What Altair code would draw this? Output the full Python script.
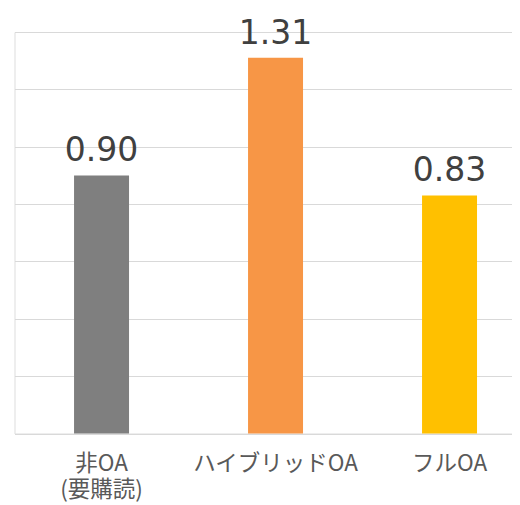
import altair as alt
import pandas as pd

categories = ["非OA\n(要購読)", "ハイブリッドOA", "フルOA"]
values = [0.90, 1.31, 0.83]
colors = ["#7F7F7F", "#F79646", "#FFC000"]
y_ticks = [0, 0.2, 0.4, 0.6, 0.8, 1.0, 1.2, 1.4]

df = pd.DataFrame({"cat": categories, "val": values, "color": colors})

x = alt.X("cat:N", sort=categories, title=None,
          scale=alt.Scale(paddingInner=0.684, paddingOuter=0.2716, align=0.63),
          axis=alt.Axis(labelAngle=0, labelExpr="split(datum.label, '\\n')",
                        labelFont="Noto Sans CJK JP", labelFontSize=22.5,
                        labelColor="#595959", labelPadding=19, labelLineHeight=26,
                        ticks=False, domain=False, grid=False, labelBaseline="top"))
y = alt.Y("val:Q", title=None,
          scale=alt.Scale(domain=[0, 1.4], nice=False, zero=True),
          axis=alt.Axis(values=y_ticks, labels=False, ticks=False, domain=False,
                        grid=True, gridColor="#D9D9D9", gridWidth=1.2))

bars = alt.Chart(df).mark_bar().encode(
    x=x, y=y, color=alt.Color("color:N", scale=None))

text = alt.Chart(df).mark_text(dy=-14, baseline="alphabetic", fontSize=33,
                               font="DejaVu Sans", color="#404040").encode(
    x=alt.X("cat:N", sort=categories), y="val:Q",
    text=alt.Text("val:Q", format=".2f"))

chart = alt.layer(bars, text).properties(
    width=497.5, height=401.5,
    autosize=alt.AutoSizeParams(type="none"),
    padding={"left": 6.5, "top": 24, "right": 0, "bottom": 74},
).configure_view(stroke=None).configure(background="white")

chart.save("out.html", embed_options={"renderer": "svg", "actions": False})
